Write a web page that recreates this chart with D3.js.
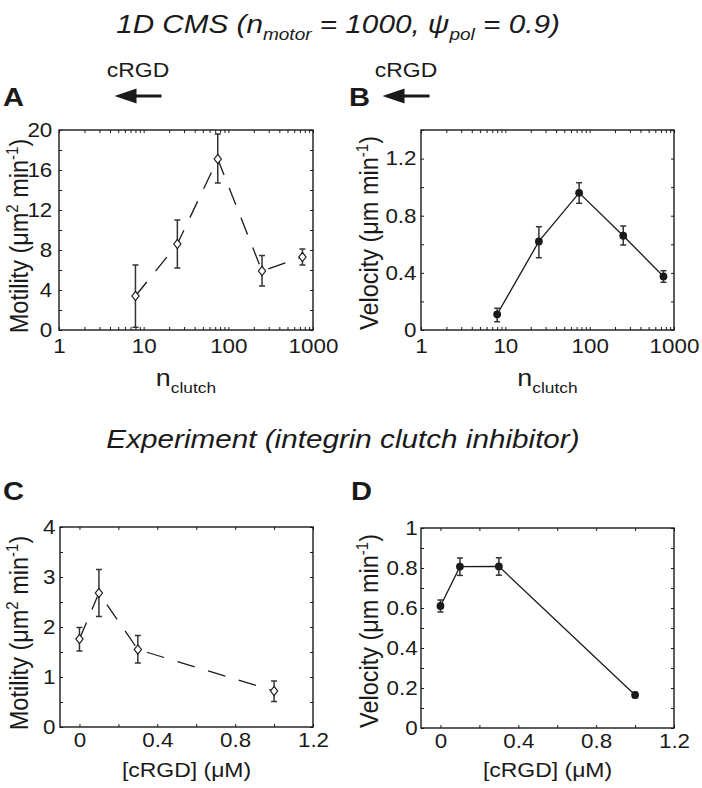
<!DOCTYPE html>
<html><head><meta charset="utf-8">
<script src="https://cdn.jsdelivr.net/npm/d3@7"></script>
<style>body{margin:0;background:#fff}svg{display:block}</style>
</head><body>
<script>
// ---------- data ----------
const nClutch = [8, 25, 75, 250, 750];
const simMotility = [3.4, 8.6, 17.1, 5.9, 7.3];
const simMotilityLo = [0.27, 6.2, 14.7, 4.4, 6.5];
const simMotilityHi = [6.5, 11.0, 19.6, 7.45, 8.1];
const simVelocity = [0.11, 0.62, 0.96, 0.66, 0.375];
const simVelocityLo = [0.058, 0.506, 0.887, 0.595, 0.334];
const simVelocityHi = [0.152, 0.723, 1.031, 0.728, 0.415];
const cRGD = [0, 0.1, 0.3, 1.0];
const expMotility = [1.76, 2.68, 1.55, 0.72];
const expMotilityLo = [1.52, 2.21, 1.28, 0.51];
const expMotilityHi = [1.99, 3.15, 1.83, 0.92];
const expVelocity = [0.61, 0.807, 0.808, 0.165];
const expVelocityLo = [0.58, 0.763, 0.764, 0.152];
const expVelocityHi = [0.64, 0.85, 0.851, 0.178];
const logTickLabels = [1, 10, 100, 1000];

const W = 702, H = 788, SX = 1.12, INK = "#1a1a1a";
const svg = d3.select("body").append("svg").attr("width", W).attr("height", H)
  .style("font-family", "'Liberation Sans', Arial, Helvetica, sans-serif");

function text(x, y, parts, o = {}) {
  const g = svg.append("g").attr("transform", `translate(${x},${y})` + (o.rot ? ` scale(${SX},1) rotate(-90)` : ` scale(${SX},1)`));
  const t = g.append("text").attr("text-anchor", o.anchor || "middle").attr("fill", INK)
    .attr("font-size", o.size || 20).attr("font-style", o.italic ? "italic" : "normal")
    .attr("font-weight", o.bold ? "bold" : "normal");
  parts.forEach(p => {
    if (typeof p === "string") t.append("tspan").text(p);
    else t.append("tspan").attr("dy", p.dy).attr("font-size", p.size).text(p.t);
  });
  return t;
}

// titles
text(338, 33, ["1D CMS (n", {t: "motor", dy: 7, size: 17}, {t: " = 1000, ψ", dy: -7, size: 26.5}, {t: "pol", dy: 7, size: 17}, {t: " = 0.9)", dy: -7, size: 26.5}], {size: 26.5, italic: true});
text(343, 448, ["Experiment (integrin clutch inhibitor)"], {size: 26.5, italic: true});

// panel letters
[["A", 3, 106], ["B", 349, 106], ["C", 3, 500], ["D", 351, 500]].forEach(([l, x, y]) =>
  text(x, y, [l], {size: 26, bold: true, anchor: "start"}));

// cRGD arrows
function arrow(cx, ty, ay) {
  text(cx, ty, ["cRGD"], {size: 20.5});
  const L = 47, hl = 22, hw = 7.5;
  svg.append("path").attr("transform", `translate(${cx - L / 2},${ay})`)
    .attr("d", `M0,0 L${hl},${-hw} L${hl},${-1.6} L${L},${-1.6} L${L},${1.6} L${hl},${1.6} L${hl},${hw} Z`)
    .attr("fill", INK);
}
arrow(138, 77, 96);
arrow(406, 77, 96);

const diamond = "M0,-4.6 L3.6,0 L0,4.6 L-3.6,0 Z";

function panel(cfg) {
  const {x0, x1, y0, y1, x, y, xTicks, xLabelFn, yTicks, yLabelFn, xv, yv, lo, hi, dashed, marker, ypad, xpad, ylab, xlab} = cfg;
  x.range([x0, x1]); y.range([y1, y0]);
  const g = svg.append("g");
  const styleAxis = (a) => {
    a.select(".domain").remove();
    a.selectAll(".tick line").attr("stroke", INK).attr("stroke-width", 1);
    a.selectAll(".tick text").attr("fill", INK).attr("font-size", 20).attr("transform", `scale(${SX},1)`);
  };
  g.append("g").attr("transform", `translate(0,${y1})`)
    .call(d3.axisBottom(x).tickValues(xTicks).tickFormat(xLabelFn).tickSizeInner(-3).tickSizeOuter(0).tickPadding(xpad))
    .call(styleAxis);
  g.append("g").attr("transform", `translate(0,${y0})`)
    .call(d3.axisTop(x).tickValues(xTicks).tickFormat("").tickSizeInner(-3).tickSizeOuter(0)).call(styleAxis);
  g.append("g").attr("transform", `translate(${x0},0)`)
    .call(d3.axisLeft(y).tickValues(yTicks).tickFormat(yLabelFn).tickSizeInner(-3).tickSizeOuter(0).tickPadding(ypad))
    .call(styleAxis);
  g.append("g").attr("transform", `translate(${x1},0)`)
    .call(d3.axisRight(y).tickValues(yTicks).tickFormat("").tickSizeInner(-3).tickSizeOuter(0)).call(styleAxis);
  g.selectAll("g").attr("font-family", null).attr("font-size", null);
  g.append("rect").attr("x", x0).attr("y", y0).attr("width", x1 - x0).attr("height", y1 - y0)
    .attr("fill", "none").attr("stroke", INK).attr("stroke-width", 1.4);

  const pts = xv.map((v, i) => ({x: v, y: yv[i], lo: lo[i], hi: hi[i]}));
  g.append("path").datum(pts)
    .attr("d", d3.line().x(d => x(d.x)).y(d => y(d.y)))
    .attr("fill", "none").attr("stroke", INK).attr("stroke-width", 1.3)
    .attr("stroke-dasharray", dashed ? "18,14" : null);
  const eb = g.append("g").attr("stroke", "#333").attr("stroke-width", 1.5).attr("fill", "none");
  pts.forEach(d => {
    const cx = x(d.x);
    eb.append("line").attr("x1", cx).attr("x2", cx).attr("y1", y(d.lo)).attr("y2", y(d.hi));
    eb.append("line").attr("x1", cx - 3).attr("x2", cx + 3).attr("y1", y(d.lo)).attr("y2", y(d.lo));
    eb.append("line").attr("x1", cx - 3).attr("x2", cx + 3).attr("y1", y(d.hi)).attr("y2", y(d.hi));
  });
  if (marker === "diamond") {
    g.selectAll(".mk").data(pts).join("path").attr("d", diamond)
      .attr("transform", d => `translate(${x(d.x)},${y(d.y)})`)
      .attr("fill", "#fff").attr("stroke", INK).attr("stroke-width", 1.2);
  } else {
    g.selectAll(".mk").data(pts).join("circle").attr("cx", d => x(d.x)).attr("cy", d => y(d.y))
      .attr("r", 3.9).attr("fill", INK);
  }
  // axis titles
  text(ylab.x, (y0 + y1) / 2 + ylab.dy, ylab.parts, {size: 23.5, rot: true});
  text((x0 + x1) / 2, xlab.y, xlab.parts, {size: xlab.size});
}

const logTicks = [];
for (let d = 1; d < 1000; d *= 10) for (let m = 1; m < 10; m++) logTicks.push(d * m);
logTicks.push(1000);
const logFmt = v => logTickLabels.includes(v) ? String(v) : "";
const stepFmt = (step) => v => Math.abs(v / step - Math.round(v / step)) < 1e-6 ? String(+v.toFixed(2)) : "";
const range = (a, b, s) => d3.range(Math.round((b - a) / s) + 1).map(i => +(a + i * s).toFixed(4));

const motLabel = ["Motility (μm", {t: "2", dy: -9, size: 15}, {t: " min", dy: 9, size: 23.5}, {t: "-1", dy: -9, size: 15}, {t: ")", dy: 9, size: 23.5}];
const velLabel = ["Velocity (μm min", {t: "-1", dy: -9, size: 15}, {t: ")", dy: 9, size: 23.5}];
const nLabel = ["n", {t: "clutch", dy: 7, size: 15.5}];
const cLabel = ["[cRGD] (μM)"];

panel({x0: 59, x1: 313, y0: 130, y1: 330, x: d3.scaleLog().domain([1, 1000]), y: d3.scaleLinear().domain([0, 20]),
  xTicks: logTicks, xLabelFn: logFmt, yTicks: range(0, 20, 2), yLabelFn: stepFmt(4),
  xv: nClutch, yv: simMotility, lo: simMotilityLo, hi: simMotilityHi, dashed: true, marker: "diamond",
  ypad: 6, xpad: 9, ylab: {x: 28, dy: 6, parts: motLabel}, xlab: {y: 386, parts: nLabel, size: 24}});
panel({x0: 421, x1: 674, y0: 130, y1: 330, x: d3.scaleLog().domain([1, 1000]), y: d3.scaleLinear().domain([0, 1.4]),
  xTicks: logTicks, xLabelFn: logFmt, yTicks: range(0, 1.4, 0.2), yLabelFn: stepFmt(0.4),
  xv: nClutch, yv: simVelocity, lo: simVelocityLo, hi: simVelocityHi, dashed: false, marker: "circle",
  ypad: 4, xpad: 9, ylab: {x: 378, dy: 3, parts: velLabel}, xlab: {y: 386, parts: nLabel, size: 24}});
panel({x0: 60, x1: 313, y0: 527, y1: 727, x: d3.scaleLinear().domain([-0.1, 1.2]), y: d3.scaleLinear().domain([0, 4]),
  xTicks: range(0, 1.2, 0.2), xLabelFn: stepFmt(0.4), yTicks: range(0, 4, 0.5), yLabelFn: stepFmt(1),
  xv: cRGD, yv: expMotility, lo: expMotilityLo, hi: expMotilityHi, dashed: true, marker: "diamond",
  ypad: 4, xpad: 6, ylab: {x: 28, dy: 6, parts: motLabel}, xlab: {y: 777, parts: cLabel, size: 20.5}});
panel({x0: 421, x1: 674, y0: 528, y1: 728, x: d3.scaleLinear().domain([-0.1, 1.2]), y: d3.scaleLinear().domain([0, 1]),
  xTicks: range(0, 1.2, 0.2), xLabelFn: stepFmt(0.4), yTicks: range(0, 1, 0.1), yLabelFn: stepFmt(0.2),
  xv: cRGD, yv: expVelocity, lo: expVelocityLo, hi: expVelocityHi, dashed: false, marker: "circle",
  ypad: 3, xpad: 6, ylab: {x: 378, dy: 3, parts: velLabel}, xlab: {y: 777, parts: cLabel, size: 20.5}});
</script>
</body></html>
